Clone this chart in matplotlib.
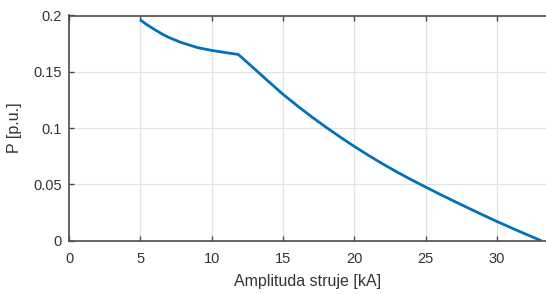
import matplotlib
matplotlib.use("Agg")
import matplotlib.pyplot as plt

plt.rcParams['font.family'] = ['Liberation Sans', 'DejaVu Sans']

# Data
current_kA = [5.0, 5.5, 6.0, 6.6, 7.0, 7.8, 8.5, 9.0, 10.0, 11.0, 11.86,
              12.0, 13.0, 14.0, 15.0, 16.0, 17.0, 18.0, 19.0, 20.0, 21.0,
              22.0, 23.0, 24.0, 25.0, 26.0, 27.0, 28.0, 29.0, 30.0, 31.0,
              32.0, 33.1]
power_pu = [0.1960, 0.1915, 0.1875, 0.1830, 0.1805, 0.1763, 0.1735, 0.1715,
            0.1690, 0.1670, 0.1654, 0.1639, 0.1526, 0.1412, 0.1300, 0.1198,
            0.1101, 0.1009, 0.0921, 0.0837, 0.0757, 0.0681, 0.0609, 0.0541,
            0.0476, 0.0412, 0.0350, 0.0289, 0.0229, 0.0170, 0.0114, 0.0059,
            0.0]
x_ticks = [0, 5, 10, 15, 20, 25, 30]
y_ticks = [0, 0.05, 0.1, 0.15, 0.2]
y_tick_labels = ['0', '0.05', '0.1', '0.15', '0.2']

W, H = 546, 294
fig = plt.figure(figsize=(W / 100, H / 100), dpi=100)
left, right, top, bottom = 69, 546, 15.5, 240.7
ax = fig.add_axes([left / W, 1 - bottom / H, (right - left) / W, (bottom - top) / H])

ax.plot(current_kA, power_pu, color='#0072BD', lw=2.0, solid_capstyle='butt',
        solid_joinstyle='round')

ax.set_xlim(0, 33.43)
ax.set_ylim(0, 0.2)
ax.set_xticks(x_ticks)
ax.set_yticks(y_ticks)
ax.set_yticklabels(y_tick_labels)

spine_col = '#4d4d4d'
for s in ['left', 'bottom', 'top']:
    ax.spines[s].set_color(spine_col)
    ax.spines[s].set_linewidth(1.2)
ax.spines['right'].set_visible(False)

ax.grid(True, color='#e3e3e3', lw=0.9)
ax.set_axisbelow(True)
ax.tick_params(direction='in', length=3.5, width=1.0, color=spine_col,
               labelsize=10.5, labelcolor='#333333', top=True)
ax.tick_params(axis='x', pad=8)
ax.tick_params(axis='y', pad=5)

ax.set_xlabel('Amplituda struje [kA]', fontsize=11.5, color='#333333', labelpad=6)
ax.set_ylabel('P [p.u.]', fontsize=11.5, color='#333333', labelpad=8)

fig.savefig('out.png', dpi=100)
